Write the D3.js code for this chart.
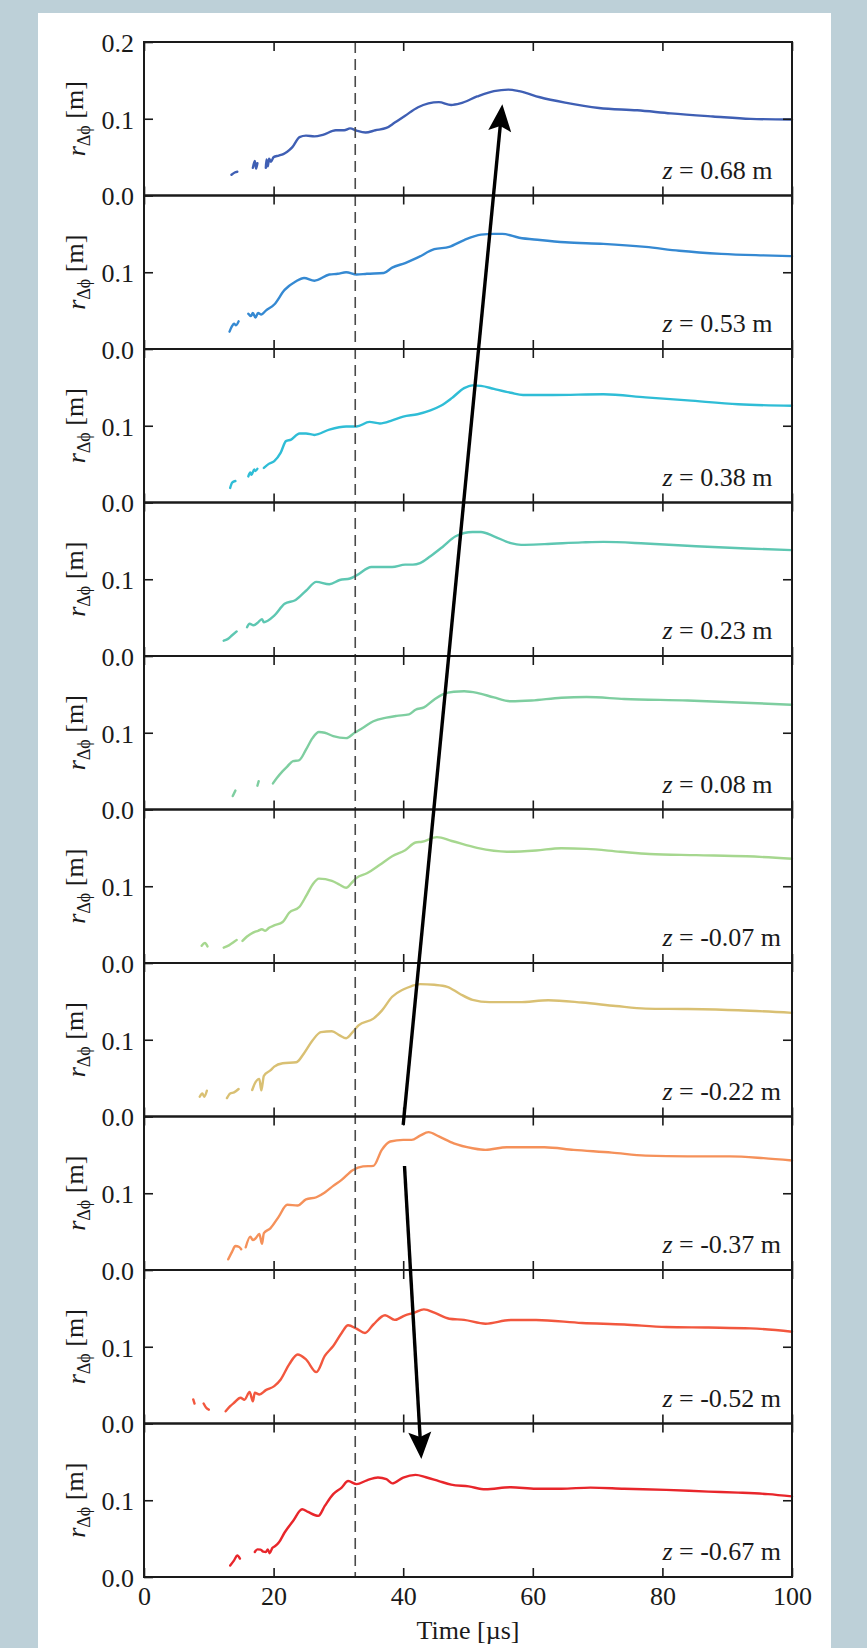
<!DOCTYPE html>
<html>
<head>
<meta charset="utf-8">
<script src="https://cdn.jsdelivr.net/npm/d3@7"></script>
<style>
  html, body { margin: 0; padding: 0; background: #bdd0d8; }
  svg { display: block; }
  text { font-family: "Liberation Serif", "Times New Roman", serif; }
</style>
</head>
<body>
<svg id="chart" width="867" height="1648"></svg>
<script>
// ---------------- DATA ----------------
const zLabels = ["0.68", "0.53", "0.38", "0.23", "0.08", "-0.07", "-0.22", "-0.37", "-0.52", "-0.67"];
const colors = ["#3f5fb4", "#3589d2", "#2fbdd6", "#5ec7b2", "#7ecea0", "#a6d78f", "#d9c073", "#f5915a", "#f2573e", "#e8262b"];
const xTicks = [0, 20, 40, 60, 80, 100];
const yTicksTop = [0.0, 0.1, 0.2];
const yTicksOther = [0.0, 0.1];
const dashedTime = 32.6;
// series: [time µs, r m], null = gap
const s068 = [[13.5,0.027],[14.0,0.030],[14.4,0.031],null,[16.8,0.036],[17.1,0.045],[17.3,0.035],[17.5,0.042],null,[18.8,0.036],[18.9,0.047],[19.1,0.038],[19.3,0.048],[19.6,0.044],[20.0,0.050],[20.8,0.052],[21.5,0.054],[22.1,0.057],[22.9,0.063],[24.0,0.076],[25.0,0.078],[26.3,0.077],[27.6,0.079],[29.6,0.085],[30.9,0.085],[31.8,0.0875],[32.8,0.0845],[34.2,0.082],[35.7,0.085],[37.4,0.088],[38.7,0.095],[40.3,0.104],[42.3,0.115],[43.9,0.120],[45.5,0.1217],[47.4,0.118],[48.8,0.120],[51.4,0.129],[54.0,0.136],[56.2,0.138],[57.9,0.136],[61.1,0.128],[65.0,0.121],[70.2,0.114],[76.1,0.111],[81.3,0.107],[87.8,0.103],[93.6,0.0998],[100,0.099]];
const s053 = [[13.2,0.0226],[13.6,0.030],[13.9,0.033],[14.2,0.031],[14.6,0.036],null,[16.1,0.046],[16.5,0.043],[16.8,0.047],[17.2,0.041],[17.6,0.047],[18.1,0.045],[18.8,0.050],[20.1,0.058],[21.7,0.077],[23.4,0.088],[24.7,0.0926],[26.3,0.089],[28.6,0.097],[29.9,0.098],[31.2,0.100],[32.8,0.097],[34.4,0.098],[37.0,0.099],[38.3,0.106],[40.3,0.112],[42.2,0.119],[44.8,0.130],[47.1,0.133],[49.4,0.142],[52.0,0.149],[54.0,0.150],[55.3,0.150],[57.9,0.145],[61.1,0.142],[65.0,0.139],[70.9,0.137],[77.4,0.133],[82.6,0.128],[89.1,0.124],[95.6,0.122],[100,0.121]];
const s038 = [[13.3,0.019],[13.6,0.026],[14.1,0.028],null,[16.1,0.034],[16.4,0.039],[16.6,0.036],[17.0,0.043],[17.2,0.041],[17.5,0.044],null,[18.5,0.045],[19.2,0.050],[20.1,0.054],[21.1,0.065],[21.9,0.080],[22.7,0.082],[24.0,0.090],[25.0,0.090],[26.3,0.088],[28.6,0.095],[31.2,0.099],[32.8,0.099],[34.8,0.105],[36.4,0.103],[38.3,0.107],[40.0,0.112],[42.2,0.115],[44.2,0.120],[45.8,0.126],[47.5,0.136],[49.4,0.149],[50.7,0.1526],[52.0,0.152],[54.0,0.148],[56.6,0.143],[58.5,0.140],[63.1,0.140],[70.9,0.141],[77.4,0.137],[83.9,0.133],[91.7,0.128],[100,0.126]];
const s023 = [[12.3,0.020],[12.9,0.022],[13.6,0.027],[14.3,0.032],null,[15.9,0.0375],[16.3,0.042],[16.9,0.040],[17.5,0.043],[18.2,0.048],[18.5,0.044],[19.1,0.046],[20.1,0.0526],[21.7,0.068],[23.4,0.073],[25.0,0.085],[26.6,0.0966],[28.6,0.0935],[30.2,0.099],[31.8,0.101],[32.8,0.105],[35.1,0.116],[36.4,0.116],[38.3,0.116],[40.3,0.119],[41.5,0.119],[42.6,0.121],[44.2,0.130],[46.2,0.143],[48.1,0.156],[50.7,0.1616],[52.0,0.1616],[54.0,0.156],[56.6,0.147],[58.2,0.1448],[61.8,0.1457],[67.6,0.148],[70.9,0.1487],[77.4,0.1466],[85.2,0.143],[93.0,0.140],[100,0.138]];
const s008 = [[13.7,0.0175],[14.1,0.0246],null,[17.5,0.031],[17.7,0.037],null,[19.9,0.034],[20.5,0.041],[21.4,0.050],[22.1,0.056],[23.0,0.063],[23.9,0.064],[25.0,0.078],[26.0,0.093],[27.0,0.101],[27.9,0.100],[29.2,0.0956],[31.2,0.093],[32.5,0.100],[33.8,0.1066],[35.4,0.115],[37.4,0.1197],[39.0,0.122],[40.9,0.124],[41.9,0.130],[43.2,0.133],[44.9,0.144],[46.1,0.150],[47.8,0.1535],[49.4,0.154],[51.4,0.152],[54.0,0.146],[56.6,0.141],[59.8,0.142],[64.4,0.1456],[68.3,0.1465],[74.1,0.144],[83.9,0.142],[91.7,0.1395],[100,0.1364]];
const sm007 = [[8.9,0.0224],[9.4,0.026],[9.8,0.0216],null,[12.3,0.020],[13.1,0.023],[13.9,0.0276],[14.3,0.030],null,[15.2,0.0288],[15.9,0.0345],[16.9,0.040],[17.6,0.042],[18.2,0.044],[18.7,0.042],[19.3,0.046],[20.1,0.049],[21.4,0.0534],[22.4,0.0655],[24.0,0.0733],[25.0,0.087],[26.0,0.102],[27.0,0.110],[29.0,0.107],[30.2,0.102],[31.2,0.098],[32.0,0.104],[32.8,0.111],[34.4,0.117],[36.4,0.128],[38.3,0.139],[40.3,0.147],[41.9,0.157],[42.9,0.158],[45.2,0.164],[47.5,0.159],[51.4,0.150],[56.0,0.145],[60.5,0.1466],[64.4,0.1496],[68.3,0.1487],[73.5,0.145],[78.0,0.142],[85.2,0.1405],[93.0,0.139],[100,0.1358]];
const sm022 = [[8.6,0.0258],[9.0,0.030],[9.3,0.0258],[9.7,0.0336],null,[12.8,0.024],[13.3,0.030],[13.9,0.0314],[14.6,0.0358],null,[16.7,0.0345],[17.1,0.043],[17.8,0.049],[18.1,0.034],[18.5,0.053],[19.5,0.060],[20.1,0.065],[21.4,0.0694],[23.5,0.0707],[24.7,0.0825],[26.0,0.099],[27.3,0.110],[29.0,0.111],[30.2,0.1057],[31.2,0.102],[32.2,0.110],[33.1,0.1188],[35.4,0.1275],[36.7,0.138],[38.3,0.156],[40.0,0.1655],[41.3,0.170],[42.6,0.1725],[44.8,0.1716],[46.8,0.169],[48.7,0.160],[50.7,0.152],[53.3,0.149],[57.9,0.149],[62.4,0.1515],[67.6,0.1485],[72.8,0.144],[77.4,0.1406],[83.9,0.140],[91.7,0.1384],[100,0.135]];
const sm037 = [[13.0,0.0139],[13.6,0.024],[14.1,0.0313],[14.7,0.030],[15.0,0.027],null,[15.7,0.0296],[16.4,0.0435],[16.8,0.039],[17.2,0.041],[17.8,0.047],[18.2,0.034],[18.5,0.048],[19.5,0.0543],[20.8,0.0696],[22.1,0.085],[23.7,0.084],[25.0,0.092],[26.6,0.0948],[27.9,0.101],[29.2,0.1096],[30.5,0.1174],[32.2,0.130],[33.8,0.135],[35.4,0.1357],[36.7,0.1565],[38.0,0.1674],[40.0,0.1696],[41.3,0.1696],[42.6,0.175],[43.9,0.1796],[45.5,0.174],[47.8,0.165],[50.7,0.1587],[52.7,0.1565],[56.0,0.160],[61.8,0.160],[66.3,0.1565],[72.2,0.153],[77.4,0.149],[83.9,0.148],[90.4,0.148],[95.6,0.1457],[100,0.1426]];
const sm052 = [[7.6,0.0313],[7.8,0.026],null,[9.2,0.026],[9.6,0.0204],[10.0,0.018],null,[12.6,0.016],[13.3,0.0226],[13.9,0.027],[14.9,0.0335],[15.5,0.031],[16.3,0.041],[16.8,0.029],[17.1,0.040],[17.8,0.0378],[18.8,0.0435],[20.1,0.0487],[21.1,0.0574],[22.4,0.077],[23.7,0.090],[25.0,0.0835],[26.6,0.067],[27.9,0.088],[29.2,0.101],[30.5,0.118],[31.5,0.128],[32.8,0.1235],[34.1,0.118],[35.4,0.129],[37.2,0.141],[38.7,0.135],[40.3,0.141],[41.6,0.144],[43.2,0.1487],[44.9,0.144],[47.1,0.1365],[49.4,0.135],[52.7,0.130],[56.6,0.1348],[60.5,0.1348],[67.6,0.131],[74.1,0.129],[80.6,0.1257],[87.1,0.125],[93.6,0.124],[100,0.1196]];
const sm067 = [[13.3,0.015],[13.9,0.0217],[14.4,0.028],[14.8,0.024],null,[17.1,0.0326],[17.5,0.036],[18.0,0.0357],[18.4,0.033],[18.8,0.0326],[19.1,0.036],[19.4,0.031],[19.8,0.0378],[20.2,0.040],[20.8,0.0448],[21.7,0.058],[23.0,0.073],[24.4,0.0883],[25.3,0.0848],[26.9,0.0796],[27.9,0.0926],[29.2,0.108],[30.5,0.1165],[31.5,0.125],[32.8,0.121],[34.4,0.126],[36.1,0.1296],[37.4,0.1274],[38.3,0.122],[40.0,0.1296],[41.9,0.133],[43.5,0.130],[45.5,0.125],[47.4,0.1204],[50.1,0.118],[52.7,0.1143],[56.6,0.117],[60.5,0.115],[64.4,0.115],[68.9,0.1165],[74.1,0.115],[80.6,0.1135],[87.1,0.1113],[91.7,0.110],[96.3,0.108],[100,0.105]];
const seriesList = [s068, s053, s038, s023, s008, sm007, sm022, sm037, sm052, sm067];
// arrows: [time, panel index, r]
const arrowUpFrom = [40.0, 7, 0.189];
const arrowUpTo = [55.3, 0, 0.119];
const arrowDownFrom = [40.2, 7, 0.1355];
const arrowDownTo = [42.8, 9, 0.1537];

// ---------------- LAYOUT ----------------
const W = 867, H = 1648;
const plotLeft = 144, plotRight = 792, plotTop = 42, panelH = 153.5, nPanels = seriesList.length;
const fontSize = 26;
const ink = "#1a1a1a";

const svg = d3.select("#chart");
svg.append("rect").attr("x", 0).attr("y", 0).attr("width", W).attr("height", H).attr("fill", "#bdd0d8");
svg.append("rect").attr("x", 38).attr("y", 13).attr("width", 793).attr("height", H - 13).attr("fill", "#ffffff");

const x = d3.scaleLinear().domain([0, 100]).range([plotLeft, plotRight]);
const yScales = d3.range(nPanels).map(i =>
  d3.scaleLinear().domain([0, 0.2]).range([plotTop + (i + 1) * panelH, plotTop + i * panelH]));

// data lines
seriesList.forEach((s, i) => {
  const y = yScales[i];
  const line = d3.line().defined(d => d !== null).x(d => x(d[0])).y(d => y(d[1])).curve(d3.curveMonotoneX);
  svg.append("path")
    .datum(s)
    .attr("fill", "none")
    .attr("stroke", colors[i])
    .attr("stroke-width", 2.4)
    .attr("stroke-linejoin", "round")
    .attr("stroke-linecap", "round")
    .attr("d", line);
});

// dashed vertical line
svg.append("line")
  .attr("x1", x(dashedTime)).attr("x2", x(dashedTime))
  .attr("y1", plotTop).attr("y2", plotTop + nPanels * panelH)
  .attr("stroke", "#4a4a4a").attr("stroke-width", 1.6)
  .attr("stroke-dasharray", "11,6");

// axes
seriesList.forEach((s, i) => {
  const y = yScales[i];
  const g = svg.append("g");
  const isLast = i === nPanels - 1;
  const bottomAxis = d3.axisBottom(x).tickValues(xTicks).tickSizeInner(-9).tickSizeOuter(0).tickPadding(10)
    .tickFormat(isLast ? d3.format("d") : () => "");
  const topAxis = d3.axisTop(x).tickValues(xTicks).tickSizeInner(-9).tickSizeOuter(0).tickFormat(() => "");
  const leftAxis = d3.axisLeft(y).tickValues(i === 0 ? yTicksTop : yTicksOther).tickSizeInner(-9).tickSizeOuter(0)
    .tickPadding(10).tickFormat(d3.format(".1f"));
  const rightAxis = d3.axisRight(y).tickValues([0.1]).tickSizeInner(-9).tickSizeOuter(0).tickFormat(() => "");

  const gb = g.append("g").attr("transform", `translate(0,${y(0)})`).call(bottomAxis);
  const gt = g.append("g").attr("transform", `translate(0,${y(0.2)})`).call(topAxis);
  const gl = g.append("g").attr("transform", `translate(${plotLeft},0)`).call(leftAxis);
  const gr = g.append("g").attr("transform", `translate(${plotRight},0)`).call(rightAxis);
  [gb, gt, gl, gr].forEach(a => {
    a.select(".domain").remove();
    a.selectAll(".tick line").attr("stroke", ink).attr("stroke-width", 1.6);
    a.selectAll(".tick text").attr("fill", ink).style("font-size", fontSize + "px")
      .style("font-family", '"Liberation Serif", "Times New Roman", serif');
  });
  gl.selectAll(".tick text").attr("dy", "0.36em");

  // spines
  g.append("rect")
    .attr("x", plotLeft).attr("y", y(0.2))
    .attr("width", plotRight - plotLeft).attr("height", y(0) - y(0.2))
    .attr("fill", "none").attr("stroke", ink).attr("stroke-width", 2);

  // y label
  const lbl = g.append("text")
    .attr("transform", `translate(85,${(y(0) + y(0.2)) / 2}) rotate(-90)`)
    .attr("text-anchor", "middle")
    .attr("fill", ink)
    .style("font-size", fontSize + "px");
  lbl.append("tspan").style("font-style", "italic").text("r");
  lbl.append("tspan").attr("dy", "0.3em").style("font-size", "18px").text("Δϕ");
  lbl.append("tspan").attr("dy", "-0.3em").text(" [m]");

  // z label
  const zt = g.append("text")
    .attr("x", x(80)).attr("y", y(0.022))
    .attr("fill", ink)
    .style("font-size", fontSize + "px");
  zt.append("tspan").style("font-style", "italic").text("z");
  zt.append("tspan").text(" = " + zLabels[i] + " m");
});

// x axis title
svg.append("text")
  .attr("x", (plotLeft + plotRight) / 2).attr("y", 1639)
  .attr("text-anchor", "middle").attr("fill", ink)
  .style("font-size", fontSize + "px")
  .text("Time [µs]");

// arrows
function drawArrow(from, to) {
  const x0 = x(from[0]), y0 = yScales[from[1]](from[2]);
  const x1 = x(to[0]), y1 = yScales[to[1]](to[2]);
  const dx = x1 - x0, dy = y1 - y0, len = Math.hypot(dx, dy);
  const ux = dx / len, uy = dy / len, px = -uy, py = ux;
  const L = 27, hw = 11.5, notch = 5;
  const bx = x1 - ux * L, by = y1 - uy * L;
  svg.append("line")
    .attr("x1", x0).attr("y1", y0)
    .attr("x2", x1 - ux * (L - notch - 1)).attr("y2", y1 - uy * (L - notch - 1))
    .attr("stroke", "#000").attr("stroke-width", 3.4);
  const pts = [
    [x1, y1],
    [bx + px * hw, by + py * hw],
    [x1 - ux * (L - notch), y1 - uy * (L - notch)],
    [bx - px * hw, by - py * hw]
  ];
  svg.append("path").attr("d", "M" + pts.map(p => p.join(",")).join("L") + "Z").attr("fill", "#000");
}
drawArrow(arrowUpFrom, arrowUpTo);
drawArrow(arrowDownFrom, arrowDownTo);
</script>
</body>
</html>
